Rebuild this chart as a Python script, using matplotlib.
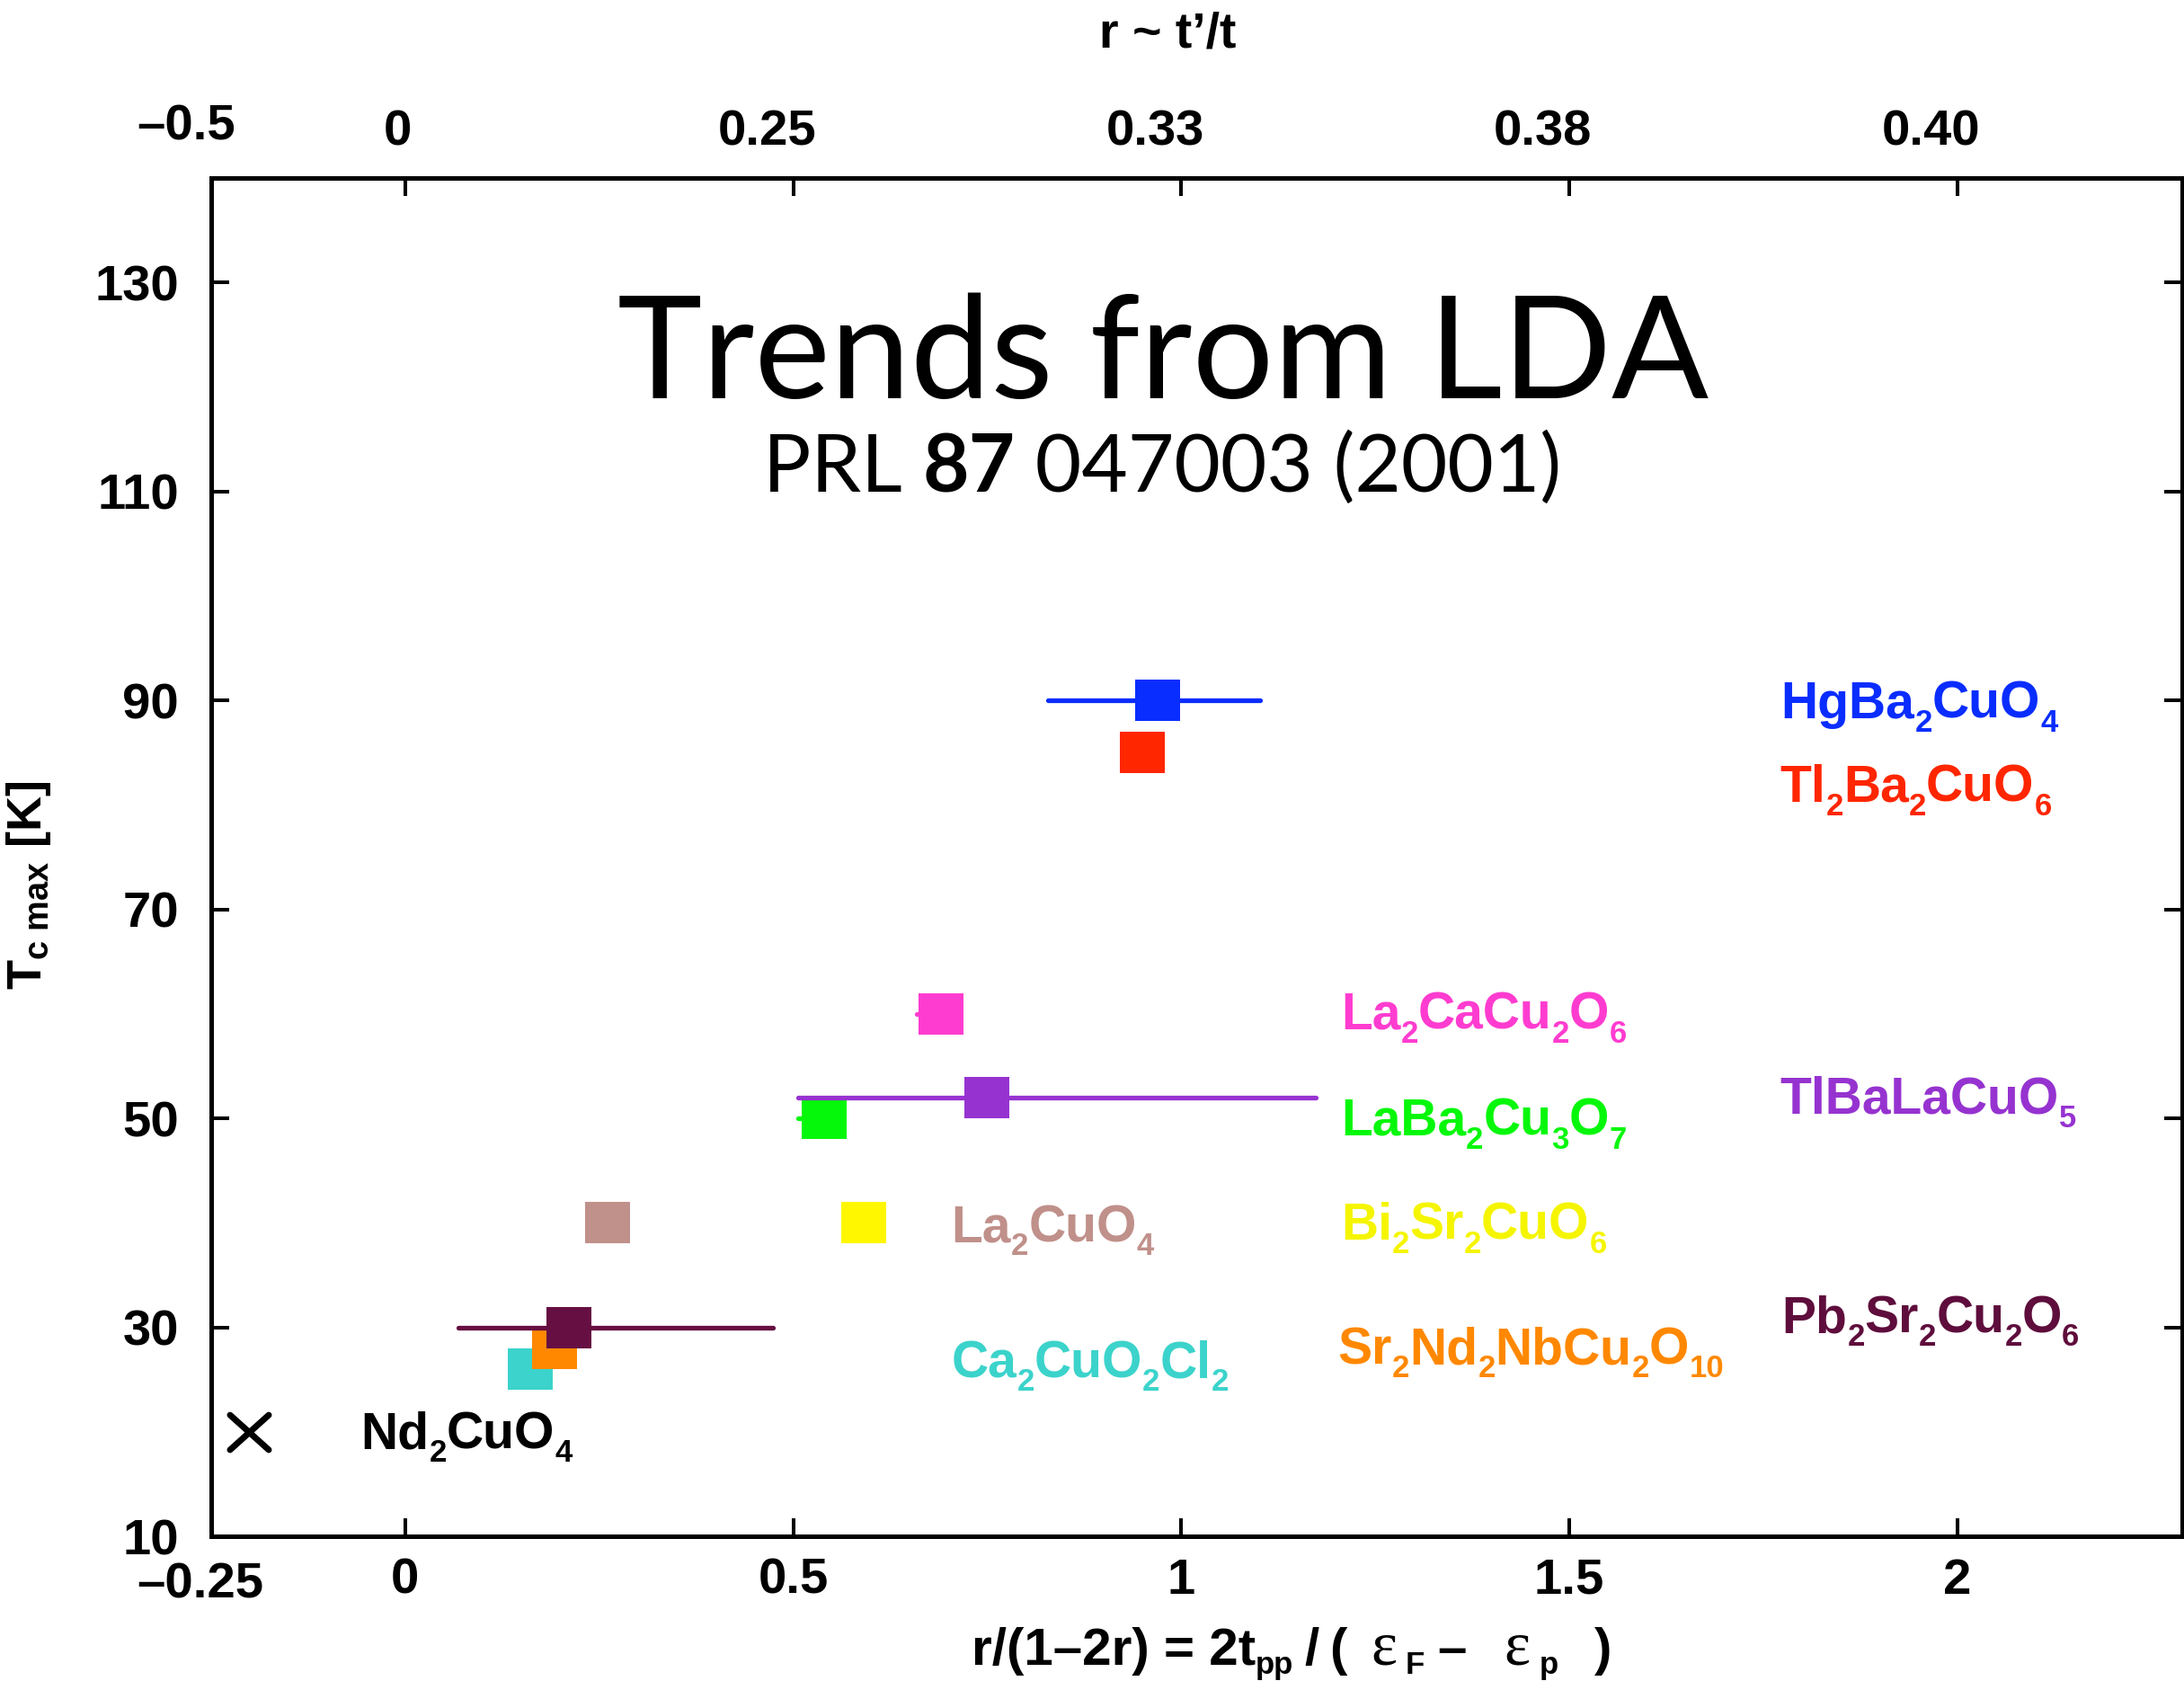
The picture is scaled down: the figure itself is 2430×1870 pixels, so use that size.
import re
import numpy as np
import matplotlib
matplotlib.use('Agg')
import matplotlib.pyplot as plt
import matplotlib.transforms as mtransforms
from matplotlib.path import Path
from matplotlib.markers import MarkerStyle

plt.rcParams['font.family'] = ['Liberation Sans', 'DejaVu Sans']
plt.rcParams['font.weight'] = 'bold'
plt.rcParams['mathtext.fontset'] = 'custom'
plt.rcParams['mathtext.rm'] = 'Liberation Sans:bold'
plt.rcParams['mathtext.it'] = 'Liberation Sans:bold'
plt.rcParams['mathtext.bf'] = 'Liberation Sans:bold'
plt.rcParams['mathtext.sf'] = 'Liberation Sans:bold'

# ---------------- data ----------------
compounds = ['HgBa2CuO4', 'Tl2Ba2CuO6', 'La2CaCu2O6', 'TlBaLaCuO5', 'LaBa2Cu3O7',
             'Bi2Sr2CuO6', 'La2CuO4', 'Pb2Sr2Cu2O6', 'Sr2Nd2NbCu2O10', 'Ca2CuO2Cl2',
             'Nd2CuO4']
x_ratio = [0.970, 0.950, 0.690, 0.750, 0.540, 0.591, 0.261, 0.211, 0.192, 0.161, -0.201]
tc_max = [90, 85, 60, 52, 50, 40, 40, 30, 28, 26, 20]
xerr_low = [0.142, 0.0, 0.031, 0.244, 0.034, 0.0, 0.0, 0.142, 0.0, 0.0, 0.0]
xerr_high = [0.132, 0.0, 0.0, 0.424, 0.0, 0.0, 0.0, 0.263, 0.0, 0.0, 0.0]

x_ticks = [0, 0.5, 1, 1.5, 2]
x_ticklabels = ['0', '0.5', '1', '1.5', '2']
top_ticklabels = ['0', '0.25', '0.33', '0.38', '0.40']
y_ticks = [10, 30, 50, 70, 90, 110, 130]
y_ticklabels = ['10', '30', '50', '70', '90', '110', '130']

# ---------------- styles / layout ----------------
colors = ['#0a2dff', '#ff2600', '#ff3cd0', '#9633d0', '#05f70a', '#fff700',
          '#c0908a', '#660f42', '#ff8800', '#3bd3cb', '#000000']
label_colors = ['#0a2dff', '#ff2600', '#ff3cd0', '#9633d0', '#05f70a', '#f5f500',
                '#c0908a', '#5e0d3c', '#ff8800', '#3bd3cb', '#000000']
label_x = [1.773, 1.772, 1.206, 1.772, 1.206, 1.206, 0.704, 1.774, 1.202, 0.704, -0.057]
label_y = [88.3, 80.3, 58.55, 50.46, 48.4, 38.4, 38.2, 29.5, 26.5, 25.2, 18.4]
draw_order = [10, 9, 8, 6, 5, 4, 2, 3, 7, 1, 0]
top_label_shift_px = [-8, -29, -29, -29, -29]

W, H = 2430, 1870
TICK_FS = 40.5
fig = plt.figure(figsize=(W / 100, H / 100), dpi=100)
ax = fig.add_axes([235 / W, 1 - 1709 / H, (2428 - 235) / W, (1709 - 198) / H])
ax.set_xlim(-0.25, 2.29)
ax.set_ylim(10, 140)
renderer = fig.canvas.get_renderer()

rect = Path([(-0.5, -0.46), (0.5, -0.46), (0.5, 0.46), (-0.5, 0.46), (-0.5, -0.46)],
            [Path.MOVETO, Path.LINETO, Path.LINETO, Path.LINETO, Path.CLOSEPOLY])
cross = Path([(-0.5, -0.45), (0.5, 0.45), (-0.5, 0.45), (0.5, -0.45)],
             [Path.MOVETO, Path.LINETO, Path.MOVETO, Path.LINETO])

for z, i in enumerate(draw_order):
    if xerr_low[i] > 0 or xerr_high[i] > 0:
        eb = ax.errorbar([x_ratio[i]], [tc_max[i]], xerr=[[xerr_low[i]], [xerr_high[i]]],
                         fmt='none', ecolor=colors[i], elinewidth=3.8, capsize=0,
                         zorder=3 + 2 * z)
        for lc in eb.lines[2]:
            lc.set_capstyle('round')
    if compounds[i] == 'Nd2CuO4':
        ax.plot([x_ratio[i]], [tc_max[i]], linestyle='none',
                marker=MarkerStyle(cross, capstyle='round'), markersize=31,
                markeredgewidth=5, markeredgecolor=colors[i], markerfacecolor='none',
                zorder=4 + 2 * z)
    else:
        ax.plot([x_ratio[i]], [tc_max[i]], linestyle='none', marker=rect,
                markersize=36, markeredgewidth=0, color=colors[i], zorder=4 + 2 * z)

# ---------------- axes styling ----------------
for sp in ax.spines.values():
    sp.set_linewidth(3.6)
ax.set_xticks(x_ticks)
ax.set_xticklabels(x_ticklabels)
ax.set_yticks(y_ticks)
ax.set_yticklabels(y_ticklabels)
ax.tick_params(axis='both', direction='in', length=14.4, width=2.9, labelsize=TICK_FS,
               top=True, right=True, labeltop=False)
ax.tick_params(axis='y', pad=26)
ax.tick_params(axis='x', pad=17)

ax2 = ax.twiny()
ax2.set_xlim(ax.get_xlim())
ax2.set_xticks(x_ticks)
ax2.set_xticklabels(top_ticklabels)
ax2.tick_params(axis='x', direction='in', length=14.4, width=2.9, labelsize=TICK_FS, pad=18)
for sp in ax2.spines.values():
    sp.set_visible(False)
for lab, dx in zip(ax2.get_xticklabels(), top_label_shift_px):
    lab.set_transform(lab.get_transform() + mtransforms.Affine2D().translate(dx, 0))

ax.annotate('\u20130.25', xy=(-0.25, 10), xycoords='data', xytext=(-12, -54),
            textcoords='offset pixels', ha='center', va='center', fontsize=TICK_FS,
            annotation_clip=False)
ax.annotate('\u20130.5', xy=(-0.25, 140), xycoords='data', xytext=(-28, 57),
            textcoords='offset pixels', ha='center', va='center', fontsize=TICK_FS,
            annotation_clip=False)


# ---------------- rich text helpers ----------------
def text_width(s, **kw):
    t1 = fig.text(0, 0, '|' + s + '|', **kw)
    t2 = fig.text(0, 0, '||', **kw)
    w = t1.get_window_extent(renderer).width - t2.get_window_extent(renderer).width
    t1.remove()
    t2.remove()
    return w


def rich_text(pieces, x, y, transform, ha='left'):
    widths = [text_width(s, **kw) for s, kw, dy, gap in pieces]
    total = sum(widths) + sum(p[3] for p in pieces)
    dx = 0 if ha == 'left' else -total / 2
    for (s, kw, dy, gap), w in zip(pieces, widths):
        dx += gap
        tr = mtransforms.offset_copy(transform, fig=fig, x=dx, y=dy, units='dots')
        fig.text(x, y, s, transform=tr, ha='left', va='baseline', **kw)
        dx += w


def formula_pieces(name, color, size=41, subsize=25, drop=15):
    out = []
    for m in re.finditer(r'(\d+)|(\D+)', name):
        if m.group(1):
            out.append((m.group(1), dict(fontsize=subsize, color=color,
                                         fontweight='bold'), -drop, 0))
        else:
            out.append((m.group(2), dict(fontsize=size, color=color,
                                         fontweight='bold'), 0, 0))
    return out


for i, name in enumerate(compounds):
    rich_text(formula_pieces(name, label_colors[i]), label_x[i], label_y[i], ax.transData)

# x label
main = dict(fontsize=42, fontweight='bold', color='black')
sub = dict(fontsize=25, fontweight='bold', color='black')
eps = dict(fontsize=50, fontweight='normal', family='Liberation Serif', color='black')
xlabel_pieces = [
    ('r/(1\u20132r) = 2t', main, 0, 0),
    ('pp', sub, -10, 0),
    ('/', main, 0, 12),
    ('(', main, 0, 12),
    ('\u03b5', eps, 0, 26),
    ('F', sub, -10, 10),
    ('\u2013', main, 0, 14),
    ('\u03b5', eps, 0, 42),
    ('p', sub, -10, 10),
    (')', main, 0, 40),
]
rich_text(xlabel_pieces, 1437 / W, 1 - 1852 / H, fig.transFigure, ha='center')

# top label
fig.text(1299 / W, 1 - 53 / H, 'r ~ t\u2019/t', fontsize=40, fontweight='bold',
         ha='center', va='baseline')

# y label
fig.text(32 / W, 1 - 985 / H, r'T$_{c\ max}$ [K]', fontsize=39, fontweight='bold',
         rotation=90, ha='center', va='center')

# title
fig.text(1294 / W, 1 - 443 / H, 'Trends from LDA', fontsize=115, family='Lato',
         fontweight='normal', ha='center', va='baseline')
prl_pieces = [
    ('PRL ', dict(fontsize=64, family='Lato', fontweight='normal'), 0, 0),
    ('87', dict(fontsize=64, family='Lato', fontweight='bold'), 0, 0),
    (' 047003 (2001)', dict(fontsize=64, family='Lato', fontweight='normal'), 0, 0),
]
rich_text(prl_pieces, 1293 / W, 1 - 547 / H, fig.transFigure, ha='center')

fig.savefig('out.png', dpi=100)
